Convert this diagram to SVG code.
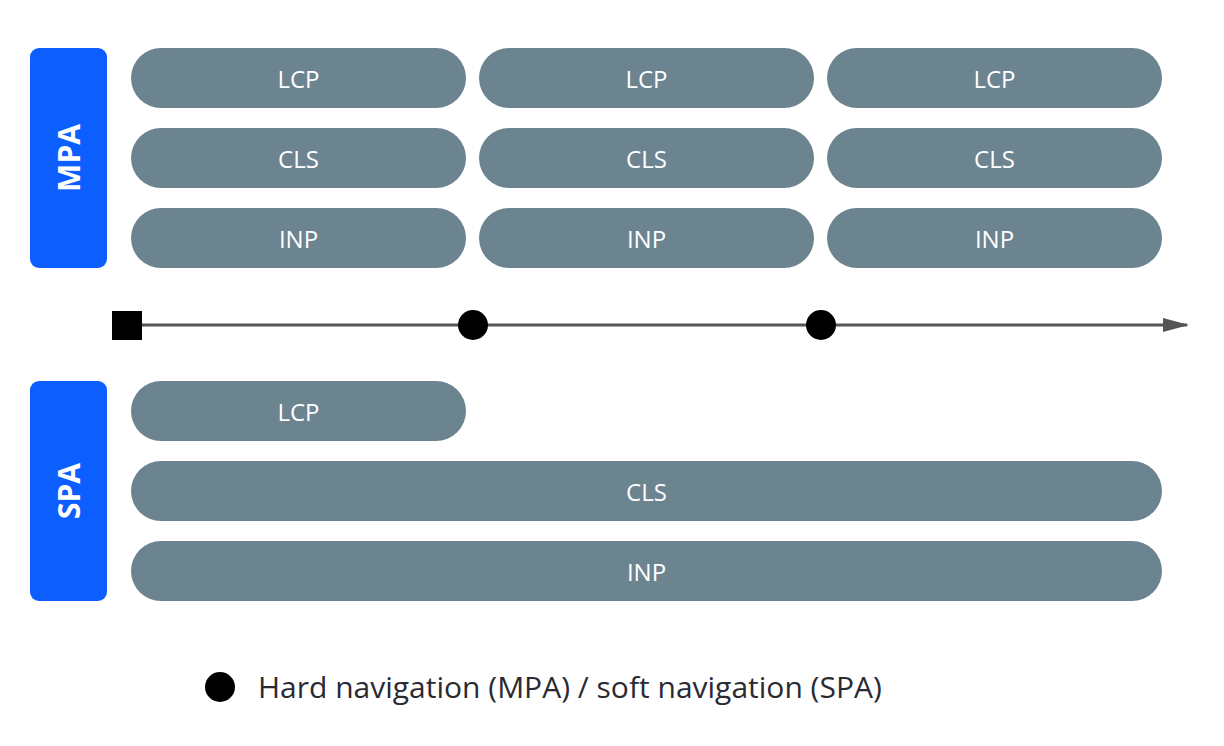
<svg xmlns="http://www.w3.org/2000/svg" width="1224" height="746" viewBox="0 0 1224 746">
<style>
.side{fill:#0d5eff}
.sl{fill:#fff;font:bold 30px "Open Sans",sans-serif;text-anchor:middle;dominant-baseline:central}
.pill{fill:#6c8490}
.pt{fill:#fff;font:24px "Open Sans",sans-serif;text-anchor:middle;dominant-baseline:central}
.lg{fill:#2a2a33;font:30px "Open Sans",sans-serif}
</style>
<defs><marker id="ah" markerWidth="26" markerHeight="14" refX="24" refY="7" orient="auto" markerUnits="userSpaceOnUse"><path d="M0,0L26,7L0,14Z" fill="#555"/></marker></defs>
<rect width="1224" height="746" fill="#fff"/>
<g id="mpa"><rect class="side" x="30" y="48" width="77" height="220" rx="9"/><text class="sl" transform="translate(68.5,158) rotate(-90)">MPA</text></g>
<g id="spa"><rect class="side" x="30" y="381" width="77" height="220" rx="9"/><text class="sl" transform="translate(68.5,491) rotate(-90)">SPA</text></g>
<g id="m1l"><rect class="pill" x="131" y="48" width="335" height="60" rx="30"/><text class="pt" x="298.5" y="78">LCP</text></g>
<g id="m2l"><rect class="pill" x="479" y="48" width="335" height="60" rx="30"/><text class="pt" x="646.5" y="78">LCP</text></g>
<g id="m3l"><rect class="pill" x="827" y="48" width="335" height="60" rx="30"/><text class="pt" x="994.5" y="78">LCP</text></g>
<g id="m1c"><rect class="pill" x="131" y="128" width="335" height="60" rx="30"/><text class="pt" x="298.5" y="158">CLS</text></g>
<g id="m2c"><rect class="pill" x="479" y="128" width="335" height="60" rx="30"/><text class="pt" x="646.5" y="158">CLS</text></g>
<g id="m3c"><rect class="pill" x="827" y="128" width="335" height="60" rx="30"/><text class="pt" x="994.5" y="158">CLS</text></g>
<g id="m1i"><rect class="pill" x="131" y="208" width="335" height="60" rx="30"/><text class="pt" x="298.5" y="238">INP</text></g>
<g id="m2i"><rect class="pill" x="479" y="208" width="335" height="60" rx="30"/><text class="pt" x="646.5" y="238">INP</text></g>
<g id="m3i"><rect class="pill" x="827" y="208" width="335" height="60" rx="30"/><text class="pt" x="994.5" y="238">INP</text></g>
<g id="sl"><rect class="pill" x="131" y="381" width="335" height="60" rx="30"/><text class="pt" x="298.5" y="411">LCP</text></g>
<g id="sc"><rect class="pill" x="131" y="461" width="1031" height="60" rx="30"/><text class="pt" x="646.5" y="491">CLS</text></g>
<g id="si"><rect class="pill" x="131" y="541" width="1031" height="60" rx="30"/><text class="pt" x="646.5" y="571">INP</text></g>
<g id="connectors"><line x1="140" y1="325" x2="1187" y2="325" stroke="#555" stroke-width="3" marker-end="url(#ah)"/></g>
<g id="start"><rect x="112" y="311" width="30" height="29" fill="#000"/></g>
<g id="nav1"><circle cx="473" cy="325" r="15" fill="#000"/></g>
<g id="nav2"><circle cx="821" cy="325" r="15" fill="#000"/></g>
<g id="legend"><circle cx="220" cy="687" r="15" fill="#000"/><text class="lg" x="258" y="698">Hard navigation (MPA) / soft navigation (SPA)</text></g>
</svg>
